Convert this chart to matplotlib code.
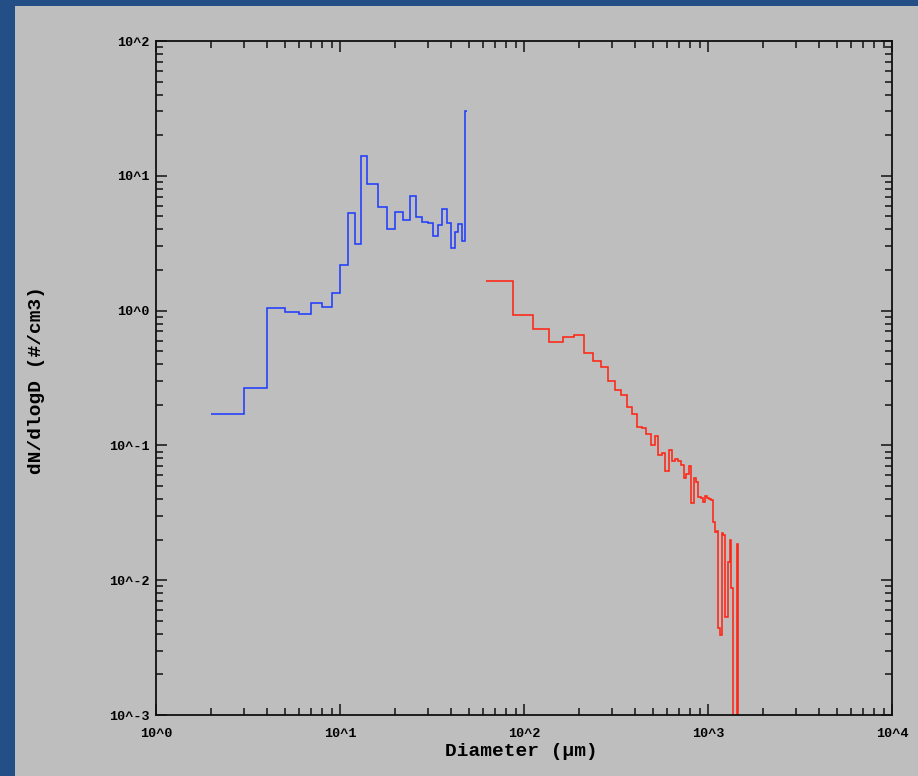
import numpy as np
import matplotlib
matplotlib.use("Agg")
import matplotlib.pyplot as plt
import matplotlib.ticker as ticker
from matplotlib.patches import Rectangle

# small-particle probe (blue), bin edges in um and dN/dlogD
blue_edges = [2, 3, 4, 5, 6, 7, 8, 9, 10, 11, 12, 13, 14, 16, 18, 20, 22, 24,
              26, 28, 30, 32, 34, 36, 38, 40, 42, 44, 46, 48, 49]
blue_vals = [0.172, 0.268, 1.05, 0.98, 0.944, 1.13, 1.07, 1.34, 2.17, 5.27,
             3.13, 14.0, 8.69, 5.90, 4.01, 5.36, 4.72, 7.08, 4.92, 4.54,
             4.46, 3.57, 4.31, 5.70, 4.46, 2.91, 3.85, 4.37, 3.27, 30.1]

# large-particle probe (red)
red_edges = [62.5, 87.5, 112.5, 137.5, 162.5, 187.5, 212.5, 237.5, 262.5,
             287.5, 312.5, 337.5, 362.5, 387.5, 412.5, 437.5, 462.5, 487.5,
             512.5, 537.5, 562.5, 587.5, 612.5, 637.5, 662.5, 687.5, 712.5,
             737.5, 762.5, 787.5, 812.5, 837.5, 862.5, 887.5, 912.5, 937.5,
             962.5, 987.5, 1012.5, 1037.5, 1062.5, 1087.5, 1112.5, 1137.5,
             1162.5, 1187.5, 1212.5, 1237.5, 1262.5, 1287.5, 1312.5, 1337.5,
             1362.5, 1387.5, 1412.5, 1437.5, 1462.5, 1487.5]
red_vals = [1.67, 0.92, 0.73, 0.58, 0.64, 0.66, 0.485, 0.425, 0.38, 0.30,
            0.258, 0.235, 0.192, 0.171, 0.137, 0.134, 0.121, 0.101, 0.118,
            0.085, 0.088, 0.065, 0.0925, 0.077, 0.079, 0.0768, 0.072, 0.0573,
            0.061, 0.0703, 0.0371, 0.0573, 0.0538, 0.0414, 0.0405, 0.0378,
            0.0418, 0.041, 0.0397, 0.0395, 0.0272, 0.0229, 0.0232, 0.0044,
            0.0039, 0.0223, 0.0215, 0.0053, 0.0053, 0.0136, 0.0199, 0.0087,
            0, 0, 0, 0.0186, 0]

W, H = 918, 776
fig = plt.figure(figsize=(W / 100, H / 100), dpi=100, facecolor="#234f86")
fig.patches.append(Rectangle((15 / W, 0), 1, 1 - 6 / H, transform=fig.transFigure,
                             facecolor="#bebebe", edgecolor="none", zorder=-5))

ax = fig.add_axes([156 / W, (H - 715) / H, (892 - 156) / W, (715 - 41) / H])
ax.set_zorder(2)
ax.set_facecolor("#bebebe")

ax.stairs(blue_vals, blue_edges, baseline=None, color="#1f3cff", lw=1.15)
ax.stairs(red_vals, red_edges, baseline=None, color="#ff2414", lw=1.15)

ax.set_xscale("log")
ax.set_yscale("log")
ax.set_xlim(1, 1e4)
ax.set_ylim(1e-3, 1e2)

fmt = ticker.FuncFormatter(lambda v, p: "10^%d" % round(np.log10(v)))
for a in (ax.xaxis, ax.yaxis):
    a.set_major_locator(ticker.LogLocator(base=10, numticks=12))
    a.set_minor_locator(ticker.LogLocator(base=10, subs=np.arange(2, 10), numticks=12))
    a.set_major_formatter(fmt)
    a.set_minor_formatter(ticker.NullFormatter())

for s in ax.spines.values():
    s.set_linewidth(1.3)
    s.set_color("#111111")

ax.tick_params(which="both", direction="in", top=True, right=True, color="#111111")
ax.tick_params(which="major", length=7.8, width=1.1)
ax.tick_params(which="minor", length=4.8, width=1.1)
ax.tick_params(axis="x", pad=9.5)
ax.tick_params(axis="y", pad=4.3)
for lab in ax.get_xticklabels() + ax.get_yticklabels():
    lab.set_fontfamily("Liberation Mono")
    lab.set_fontweight("bold")
    lab.set_fontsize(9.7)

fig.text(521 / W, 1 - 752 / H, "Diameter (\u03bcm)", ha="center", va="center",
         family="Liberation Mono", fontweight="bold", fontsize=14, zorder=3)
fig.text(37 / W, 1 - 380 / H, "dN/dlogD (#/cm3)", ha="center", va="center",
         rotation=90, family="Liberation Mono", fontweight="bold", fontsize=14, zorder=3)

fig.savefig("out.png", dpi=100, facecolor=fig.get_facecolor())
